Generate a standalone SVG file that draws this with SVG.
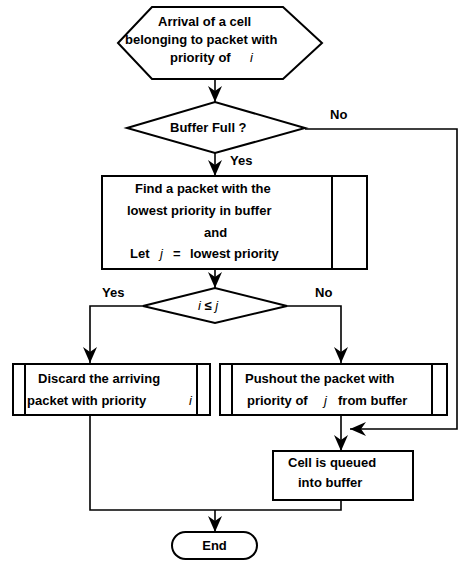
<svg xmlns="http://www.w3.org/2000/svg" width="462" height="564" viewBox="0 0 462 564">
<defs>
<style>
.shape{fill:#fff;stroke:#000;stroke-width:2}
.ln{fill:none;stroke:#000;stroke-width:1.6}
.t{font-family:"Liberation Sans",Arial,sans-serif;font-size:13px;font-weight:bold;fill:#000}
.v{font-family:"Liberation Sans",Arial,sans-serif;font-size:13px;font-style:italic;fill:#000}
</style>
<marker id="ah" markerUnits="userSpaceOnUse" viewBox="0 0 16 14" refX="16" refY="7" markerWidth="16" markerHeight="14" orient="auto">
<path d="M0,0 L16,7 L0,14 L5,7 z" fill="#000"/>
</marker>
</defs>
<rect width="462" height="564" fill="#fff"/>
<g id="connectors">
<path class="ln" d="M215,79 V102" marker-end="url(#ah)"/>
<path class="ln" d="M215,153 V176" marker-end="url(#ah)"/>
<path class="ln" d="M215,269 V288" marker-end="url(#ah)"/>
<path class="ln" d="M143,306 H90 V363" marker-end="url(#ah)"/>
<path class="ln" d="M287,306 H341 V363" marker-end="url(#ah)"/>
<path class="ln" d="M305,129 H457 V429 H350" marker-end="url(#ah)"/>
<path class="ln" d="M341,415 V451" marker-end="url(#ah)"/>
<path class="ln" d="M90,415 V510 H341 V500"/>
<path class="ln" d="M215,510 V532" marker-end="url(#ah)"/>
<text class="t" x="330" y="119">No</text>
<text class="t" x="230" y="165">Yes</text>
<text class="t" x="102" y="297">Yes</text>
<text class="t" x="315" y="297">No</text>
</g>
<g id="start">
<polygon class="shape" points="118,43 152,7 283,7 322,43 283,79 152,79"/>
<text class="t" x="158" y="26">Arrival of a cell</text>
<text class="t" x="125" y="44">belonging to packet with</text>
<text class="t" x="170" y="62">priority of</text>
<text class="v" x="250" y="62">i</text>
</g>
<g id="buffer-full">
<polygon class="shape" points="127,128 215,102 305,128 215,153"/>
<text class="t" x="170" y="132">Buffer Full ?</text>
</g>
<g id="find-lowest">
<rect class="shape" x="102" y="176" width="265" height="93"/>
<line class="ln" x1="332" y1="176" x2="332" y2="269" style="stroke-width:2"/>
<text class="t" x="135" y="193">Find a packet with the</text>
<text class="t" x="127" y="215">lowest priority in buffer</text>
<text class="t" x="204" y="237">and</text>
<text class="t" x="130" y="258">Let</text>
<text class="v" x="160" y="258">j</text>
<text class="t" x="173" y="258">=</text>
<text class="t" x="190" y="258">lowest priority</text>
</g>
<g id="compare">
<polygon class="shape" points="143,306 215,288 287,306 215,323"/>
<text class="v" x="198" y="310">i<tspan style="font-style:normal;font-weight:bold"> ≤ </tspan>j</text>
</g>
<g id="discard">
<rect class="shape" x="13" y="364" width="197" height="51"/>
<line class="ln" x1="25" y1="364" x2="25" y2="415" style="stroke-width:2"/>
<line class="ln" x1="197" y1="364" x2="197" y2="415" style="stroke-width:2"/>
<text class="t" x="38" y="383">Discard the arriving</text>
<text class="t" x="27" y="405">packet with priority</text>
<text class="v" x="189" y="405">i</text>
</g>
<g id="pushout">
<rect class="shape" x="220" y="364" width="227" height="51"/>
<line class="ln" x1="232" y1="364" x2="232" y2="415" style="stroke-width:2"/>
<line class="ln" x1="432" y1="364" x2="432" y2="415" style="stroke-width:2"/>
<text class="t" x="245" y="383">Pushout the packet with</text>
<text class="t" x="247" y="405">priority of</text>
<text class="v" x="324" y="405">j</text>
<text class="t" x="338" y="405">from buffer</text>
</g>
<g id="queue">
<rect class="shape" x="273" y="451" width="140" height="49"/>
<text class="t" x="288" y="467">Cell is queued</text>
<text class="t" x="298" y="487">into buffer</text>
</g>
<g id="end">
<rect class="shape" x="172" y="532" width="85" height="27" rx="13.5"/>
<text class="t" x="214.5" y="550" text-anchor="middle">End</text>
</g>
</svg>
